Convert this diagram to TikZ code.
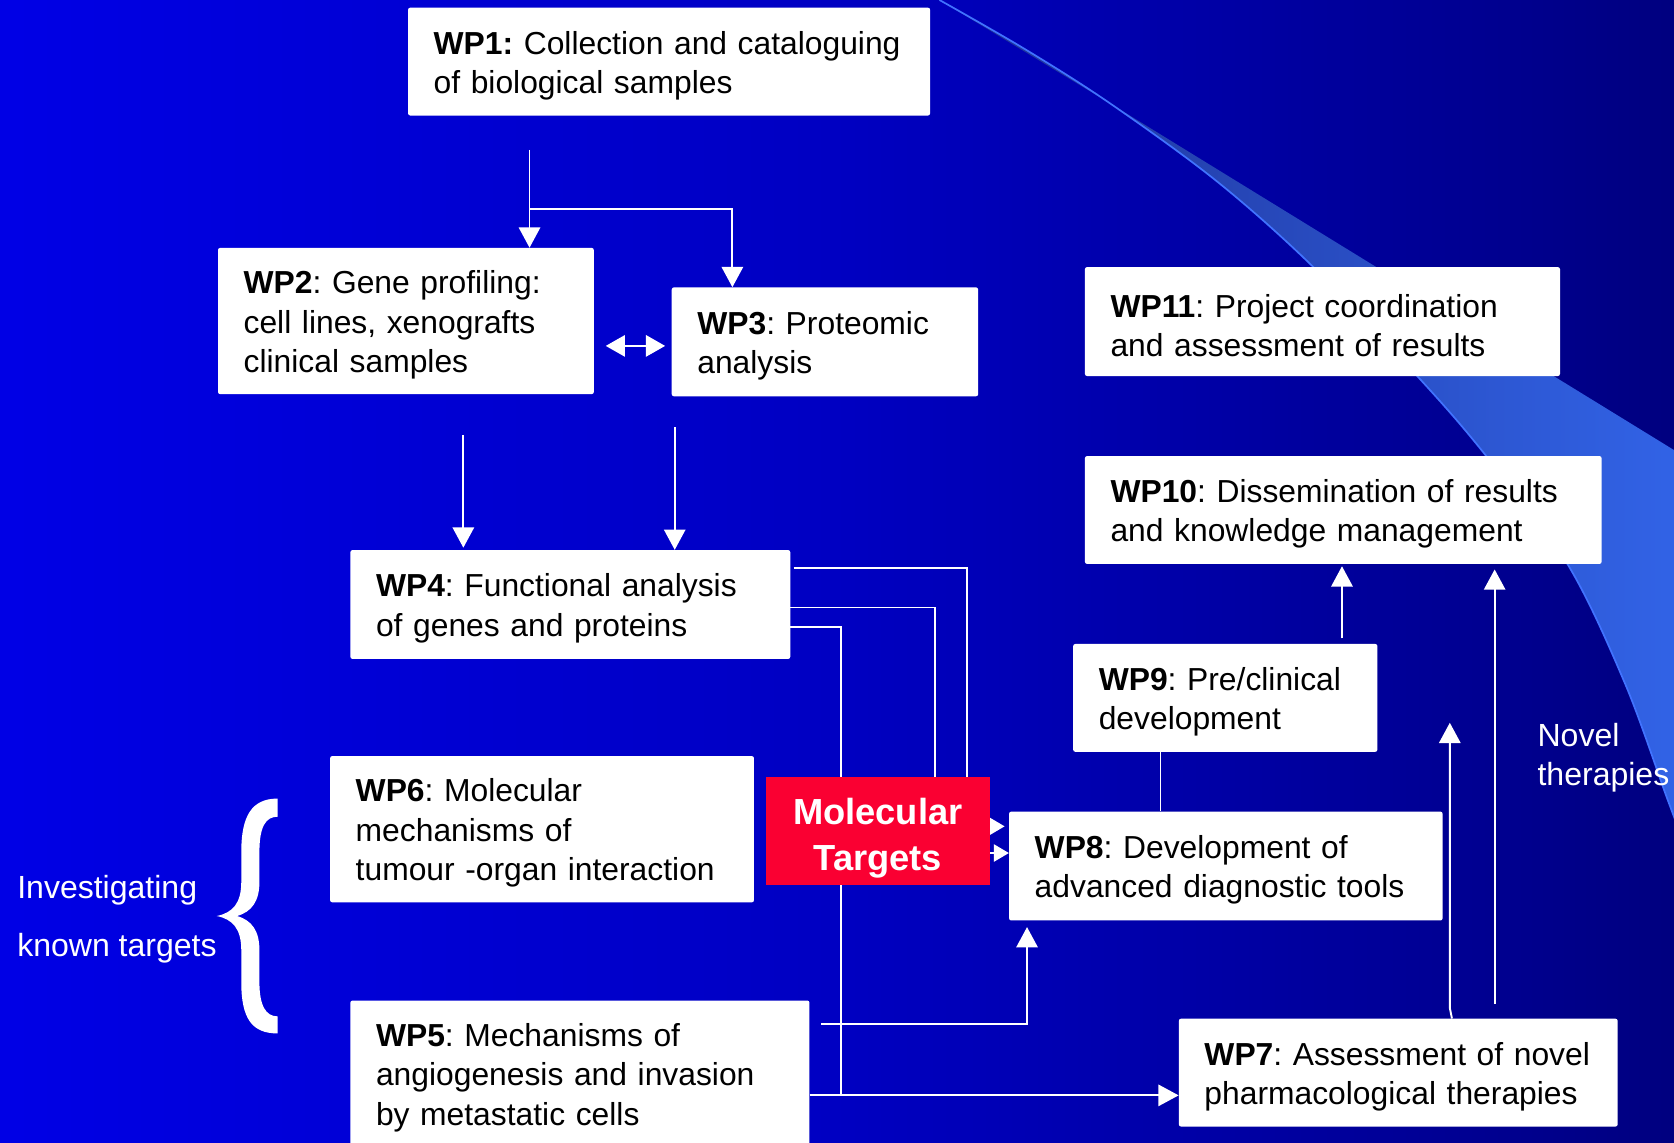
\documentclass[tikz,border=0pt]{standalone}
\usepackage{fontspec}
\setmainfont{Liberation Sans}
\usetikzlibrary{arrows.meta,calc}
\definecolor{mtred}{RGB}{250,0,50}
\definecolor{bandL}{RGB}{30,50,150}
\definecolor{bandR}{RGB}{50,100,232}
\definecolor{swline}{RGB}{65,115,255}
\pgfdeclarehorizontalshading{bgshade}{100bp}{rgb(0bp)=(0.03,0.03,0.96); rgb(25bp)=(0,0,0.9); rgb(50bp)=(0,0,0.76); rgb(70bp)=(0,0,0.56); rgb(88bp)=(0,0,0.34); rgb(100bp)=(0,0,0.19)}
\pgfdeclarelayer{bg}
\pgfdeclarelayer{lines}
\pgfsetlayers{bg,lines,main}
\frenchspacing
\begin{document}
\begin{tikzpicture}[x=1pt,y=-1pt,
  box/.style={fill=white, rounded corners=2pt, inner xsep=24pt, inner ysep=0pt, align=left, anchor=north west, text=black, font=\fontsize{29.8}{37}\selectfont\frenchspacing, execute at begin node={\noindent\rule{0pt}{29pt}}},
  mtbox/.style={fill=mtred, inner sep=0pt, align=center, text width=210pt, anchor=north west, text=white, font=\bfseries\fontsize{34}{43}\selectfont, minimum height=101pt, execute at begin node={\noindent\rule{0pt}{38pt}}},
  conn/.style={draw=white, line width=1.8pt},
  arr/.style={conn, -{Triangle[width=20pt,length=19pt]}},
  sarr/.style={conn, -{Triangle[width=16pt,length=14pt]}},
  dbl/.style={conn, {Triangle[width=20pt,length=18pt]}-{Triangle[width=20pt,length=18pt]}},
  lbl/.style={text=white, inner sep=0pt, anchor=north west, align=left, font=\fontsize{30}{37}\selectfont}
]
\useasboundingbox (0,0) rectangle (1568,1070);
\begin{pgfonlayer}{bg}
% background
\shade[shading=bgshade] (0,0) rectangle (1568,1070);
% swoosh band
\shade[left color=bandL, right color=bandR]
  plot[smooth, tension=0.55] coordinates {(880,0) (960,46) (1040,97) (1140,170) (1230,250) (1330,355) (1392,427) (1468,528) (1522,640) (1562,749) (1585,810)}
  -- (1585,432) -- (1040,97) -- cycle;
\draw[swline, line width=1.6pt]
  plot[smooth, tension=0.55] coordinates {(880,0) (960,46) (1040,97) (1140,170) (1230,250) (1330,355) (1392,427) (1468,528) (1522,640) (1562,749) (1585,810)};
\end{pgfonlayer}

% boxes
\node[box, text width=441pt, minimum height=101pt] (wp1) at (382,7) {\mbox{\textbf{WP1:} Collection and cataloguing}\\\mbox{of biological samples}};
\node[box, text width=304pt, minimum height=137pt] (wp2) at (204,232) {\mbox{\textbf{WP2}: Gene profiling:}\\\mbox{cell lines, xenografts}\\\mbox{clinical samples}};
\node[box, text width=239pt, minimum height=102pt] (wp3) at (629,269) {\mbox{\textbf{WP3}: Proteomic}\\\mbox{analysis}};
\node[box, text width=364pt, minimum height=102pt] (wp4) at (328,515) {\mbox{\textbf{WP4}: Functional analysis}\\\mbox{of genes and proteins}};
\node[box, text width=349pt, minimum height=137pt] (wp6) at (309,708) {\mbox{\textbf{WP6}: Molecular}\\\mbox{mechanisms of}\\\mbox{tumour -organ interaction}};
\node[box, text width=382pt, minimum height=137pt] (wp5) at (328,937) {\mbox{\textbf{WP5}: Mechanisms of}\\\mbox{angiogenesis and invasion}\\\mbox{by metastatic cells}};
\node[mtbox] (mt) at (717,728) {Molecular\\Targets};
\node[box, text width=358pt, minimum height=102pt] (wp8) at (945,760) {\mbox{\textbf{WP8}: Development of}\\\mbox{advanced diagnostic tools}};
\node[box, text width=237pt, minimum height=101pt] (wp9) at (1005,603) {\mbox{\textbf{WP9}: Pre/clinical}\\\mbox{development}};
\node[box, text width=436pt, minimum height=101pt] (wp10) at (1016,427) {\mbox{\textbf{WP10}: Dissemination of results}\\\mbox{and knowledge management}};
\node[box, text width=397pt, minimum height=102pt] (wp11) at (1016,250) {\mbox{\textbf{WP11}: Project coordination}\\\mbox{and assessment of results}};
\node[box, text width=363pt, minimum height=101pt] (wp7) at (1104,954) {\mbox{\textbf{WP7}: Assessment of novel}\\\mbox{pharmacological therapies}};

% labels
\node[lbl] (novel) at (1440,677) {Novel\\therapies};
\node[lbl, font=\fontsize{30}{54}\selectfont] (invest) at (16,820) {Investigating\\known targets};

% brace
\fill[white] (260,748) .. controls (236,748) and (226,764) .. (226,798) -- (226,826)
  .. controls (226,846) and (218,855) .. (203,858)
  .. controls (218,861) and (226,870) .. (226,890) -- (226,920)
  .. controls (226,954) and (236,968) .. (260,968) -- (260,952)
  .. controls (249,952) and (243,942) .. (243,920) -- (243,890)
  .. controls (243,872) and (236,862) .. (222,858)
  .. controls (236,854) and (243,844) .. (243,826) -- (243,798)
  .. controls (243,774) and (249,765) .. (260,765) -- cycle;

% helper coordinates
\coordinate (t1) at (496,0);
\coordinate (b1) at (686,196);
\coordinate (d1) at (0,324);
\coordinate (v1) at (434,0);
\coordinate (v2) at (632,0);
\coordinate (h1) at (906,532);
\coordinate (h2) at (876,569);
\coordinate (h3) at (788,587);
\coordinate (h4) at (788,1026);
\coordinate (g1) at (962,959);
\coordinate (m1) at (0,774);
\coordinate (m2) at (0,799);
\coordinate (k1) at (1087,0);
\coordinate (k2) at (1257,0);
\coordinate (k3) at (1400,0);
\coordinate (k4) at (1360,0);
\coordinate (n1) at (1358,677);

% connectors
\begin{pgfonlayer}{lines}
\draw[arr, shorten <=32pt] (wp1.south -| t1) -- (wp2.north -| t1);
\draw[arr] (t1 |- b1) -- (b1) -- (wp3.north -| b1);
\draw[dbl, shorten <=11pt, shorten >=6pt] (wp2.east |- d1) -- (wp3.west |- d1);
\draw[arr, shorten <=38pt, shorten >=2pt] (wp2.south -| v1) -- (wp4.north -| v1);
\draw[arr, shorten <=29pt] (wp3.south -| v2) -- (wp4.north -| v2);
\draw[conn, shorten <=3pt] (wp4.east |- h1) -- (h1) -- (mt.north -| h1);
\draw[conn] (wp4.east |- h2) -- (h2) -- (mt.north -| h2);
\draw[conn] (wp4.east |- h3) -- (h3) -- (h4);
\draw[arr] (wp5.east |- h4) -- (wp7.west |- h4);
\draw[arr, shorten <=11pt, shorten >=6pt] (wp5.east |- g1) -- (g1) -- (wp8.south -| g1);
\draw[sarr, shorten >=4pt] (mt.east |- m1) -- (wp8.west |- m1);
\draw[sarr] (mt.east |- m2) -- (wp8.west |- m2);
\draw[conn] (wp9.south -| k1) -- (wp8.north -| k1);
\draw[arr, shorten <=5pt, shorten >=2pt] (wp9.north -| k2) -- (wp10.south -| k2);
\draw[arr, shorten <=14pt, shorten >=5pt] (wp7.north -| k3) -- (wp10.south -| k3);
\draw[arr] (wp7.north -| k4) -- ++(-2,-10) -- (n1);
\end{pgfonlayer}
\end{tikzpicture}
\end{document}
